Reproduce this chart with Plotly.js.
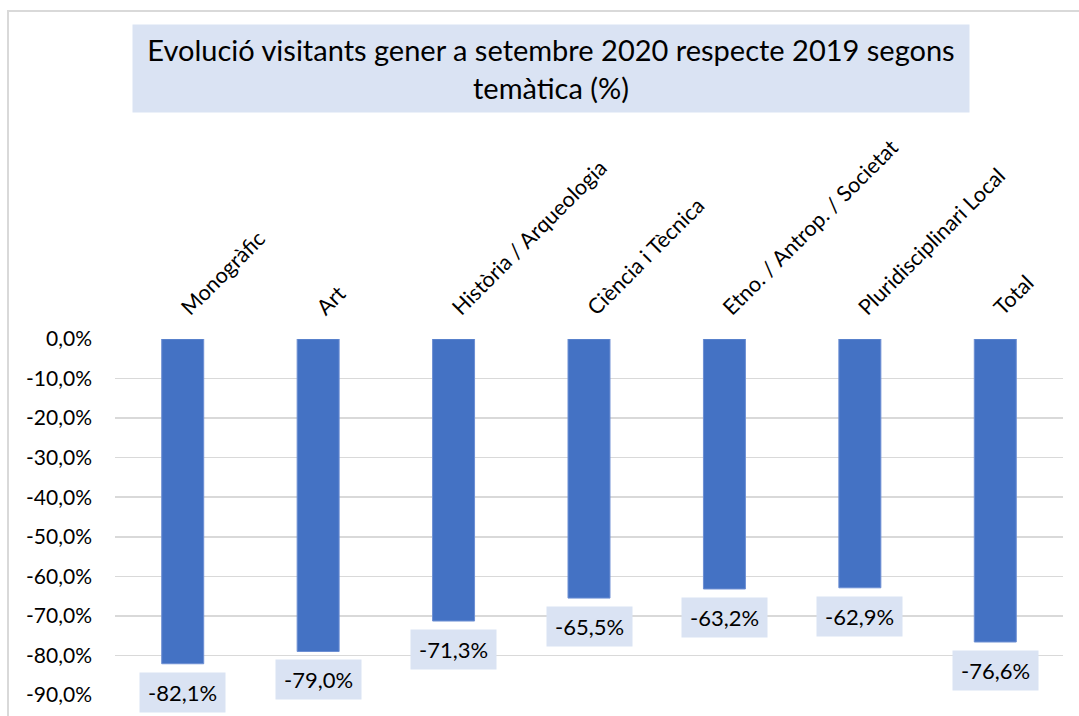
<!DOCTYPE html>
<html>
<head>
<meta charset="utf-8">
<script src="https://cdn.plot.ly/plotly-3.0.1.min.js"></script>
<style>
  html, body { margin: 0; padding: 0; background: #ffffff; }
  #wrap { position: relative; width: 1079px; height: 716px; overflow: hidden; }
  #chart { position: absolute; left: 0; top: 0; width: 1079px; height: 716px; }
  #frame { position: absolute; left: 7px; top: 10px; width: 1100px; height: 720px;
           border-top: 2px solid #d9d9d9; border-left: 2px solid #d9d9d9; pointer-events: none; }
</style>
</head>
<body>
<div id="wrap">
  <div id="chart"></div>
  <div id="frame"></div>
</div>
<script>
// ---- data ----
const categories = [
  "Monogràfic",
  "Art",
  "Història / Arqueologia",
  "Ciència i Tècnica",
  "Etno. / Antrop. / Societat",
  "Pluridisciplinari Local",
  "Total"
];
const values = [-0.821, -0.790, -0.713, -0.655, -0.632, -0.629, -0.766];
const yTickValues = [0, -0.1, -0.2, -0.3, -0.4, -0.5, -0.6, -0.7, -0.8, -0.9];
const titleText = "Evolució visitants gener a setembre 2020 respecte 2019 segons<br>temàtica (%)";

// ---- helpers ----
function fmtPct(v) {
  const s = (Math.abs(v) * 100).toFixed(1).replace('.', ',') + '%';
  return (v < 0 ? '-' : '') + s;
}
const yTickText = yTickValues.map(fmtPct);

const FONT = 'Lato, "Noto Sans", sans-serif';
const BAR = '#4472C4';
const BOX = '#DAE3F3';

const trace = {
  type: 'bar',
  x: categories,
  y: values,
  marker: { color: BAR, line: { color: '#6d8fd3', width: 1 } },
  hoverinfo: 'skip'
};

const labelAnnotations = categories.map((c, i) => ({
  x: c,
  y: values[i],
  xref: 'x',
  yref: 'y',
  text: fmtPct(values[i]),
  showarrow: false,
  yanchor: 'top',
  yshift: -8,
  bgcolor: BOX,
  width: 83,
  height: 37,
  font: { family: FONT, size: 22, color: '#000000' }
}));

const titleAnnotation = {
  xref: 'paper',
  yref: 'paper',
  x: 0.5,
  y: 1,
  xanchor: 'center',
  yanchor: 'bottom',
  yshift: 226,
  xshift: -38,
  text: titleText,
  showarrow: false,
  bgcolor: BOX,
  width: 834,
  height: 85,
  font: { family: FONT, size: 29, color: '#000000' }
};

const layout = {
  width: 1079,
  height: 716,
  paper_bgcolor: '#ffffff',
  plot_bgcolor: '#ffffff',
  separators: ',.',
  showlegend: false,
  bargap: 0.69,
  margin: { l: 115, r: 16, t: 339, b: 21 },
  font: { family: FONT, size: 22, color: '#000000' },
  xaxis: {
    type: 'category',
    side: 'top',
    tickangle: -45,
    ticks: '',
    showline: false,
    showgrid: false,
    zeroline: false,
    ticklabelstandoff: 14,
    tickfont: { family: FONT, size: 21.5, color: '#000000' },
    fixedrange: true
  },
  yaxis: {
    range: [-0.9, 0],
    tickvals: yTickValues,
    ticktext: yTickText,
    showgrid: true,
    gridcolor: '#d9d9d9',
    gridwidth: 1.5,
    zeroline: false,
    showline: false,
    ticks: '',
    ticklabelstandoff: 22,
    tickfont: { family: FONT, size: 21, color: '#000000' },
    fixedrange: true
  },
  annotations: [titleAnnotation].concat(labelAnnotations)
};

Plotly.newPlot('chart', [trace], layout, { displayModeBar: false, staticPlot: true });
</script>
</body>
</html>
